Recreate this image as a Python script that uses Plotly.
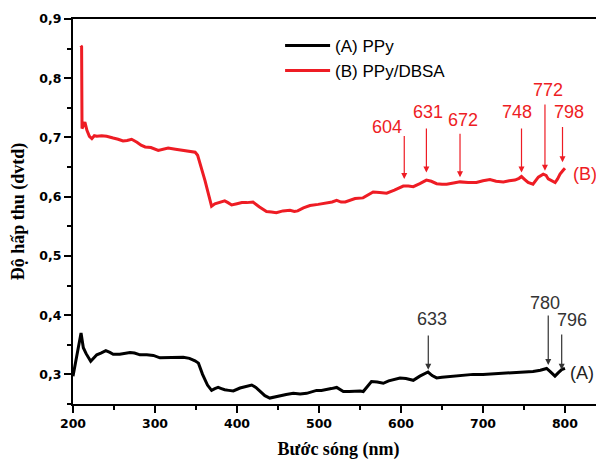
import plotly.graph_objects as go

# ---- Data ----
wl_B = [209.5, 210.5, 211, 212.5, 214.5, 217, 220, 223, 226, 229, 235, 241, 245, 249, 255, 261, 266, 271.5,
        278, 283, 288, 295, 304, 310, 316, 325, 334, 342, 349, 352, 356, 361, 366, 369, 373, 377, 381, 385,
        389, 393.5, 400, 406, 412, 419.5, 427, 436, 442, 448, 456, 464.6, 470, 474, 481, 489, 499, 509, 516,
        521.6, 527, 532, 538, 544, 553.7, 560, 566, 574, 582.5, 592, 602.8, 609, 615, 623, 631, 637, 643.5,
        650, 655.7, 664, 672, 682, 692, 700, 708.5, 716, 724.8, 732, 739, 744, 747, 751, 755, 761, 764,
        767.5, 773.5, 777, 779.6, 784, 788, 791, 794, 798, 800]
abs_B = [0.855, 0.853, 0.715, 0.72, 0.726, 0.712, 0.702, 0.698, 0.703, 0.702, 0.703, 0.702, 0.701, 0.699,
         0.697, 0.694, 0.695, 0.697, 0.692, 0.687, 0.684, 0.683, 0.678, 0.680, 0.682, 0.680, 0.678, 0.676,
         0.675, 0.670, 0.652, 0.627, 0.600, 0.584, 0.588, 0.590, 0.591, 0.593, 0.590, 0.586, 0.588, 0.590,
         0.590, 0.591, 0.583, 0.575, 0.574, 0.573, 0.576, 0.577, 0.575, 0.576, 0.581, 0.585, 0.587, 0.589,
         0.591, 0.594, 0.591, 0.591, 0.594, 0.597, 0.598, 0.603, 0.608, 0.607, 0.606, 0.611, 0.618, 0.618,
         0.617, 0.622, 0.628, 0.626, 0.622, 0.621, 0.621, 0.623, 0.625, 0.624, 0.624, 0.627, 0.629, 0.626,
         0.625, 0.627, 0.628, 0.631, 0.634, 0.629, 0.624, 0.621, 0.626, 0.633, 0.638, 0.636, 0.630, 0.627,
         0.624, 0.630, 0.638, 0.645, 0.648]

wl_A = [200, 203, 206, 209.8, 212.6, 216, 221.6, 225, 229, 234, 240, 245, 249, 257, 263, 269.5, 275, 281.7,
        290, 298, 306, 315, 325, 334.5, 342, 348.8, 353, 358, 364, 369, 373, 377, 381, 385, 390, 395.5,
        403.7, 410, 418, 423, 428, 434, 440, 446, 452, 460, 468.7, 477, 485, 491, 497, 503, 509, 515, 521.6,
        525, 529.7, 537, 544, 550, 554, 559, 564, 571, 578.4, 585, 590.6, 598.8, 606, 615, 623, 628, 633,
        638, 643.5, 650, 663.8, 676, 688, 700, 712.6, 725, 737, 749, 761, 770, 777.6, 781.7, 785, 787.8,
        792, 796, 800]
abs_A = [0.297, 0.32, 0.345, 0.370, 0.345, 0.335, 0.322, 0.327, 0.333, 0.336, 0.340, 0.337, 0.334, 0.334,
         0.336, 0.337, 0.336, 0.333, 0.333, 0.332, 0.328, 0.328, 0.329, 0.329, 0.327, 0.323, 0.319, 0.300,
         0.282, 0.273, 0.276, 0.278, 0.276, 0.274, 0.273, 0.272, 0.277, 0.279, 0.282, 0.278, 0.271, 0.264,
         0.260, 0.262, 0.264, 0.266, 0.268, 0.267, 0.268, 0.271, 0.273, 0.273, 0.274, 0.276, 0.278, 0.275,
         0.271, 0.271, 0.272, 0.272, 0.271, 0.280, 0.288, 0.287, 0.285, 0.289, 0.291, 0.294, 0.293, 0.290,
         0.297, 0.300, 0.304, 0.298, 0.294, 0.295, 0.297, 0.299, 0.300, 0.300, 0.301, 0.302, 0.302, 0.303,
         0.305, 0.307, 0.310, 0.305, 0.300, 0.297, 0.303, 0.308, 0.310]

# Peak markers: label, arrow x, arrow tip y, arrow tail y, label x, label y
peaks_B_label = ["604", "631", "672", "748", "772", "798"]
peaks_B_x     = [604, 631, 672, 747, 775.6, 797]
peaks_B_tip   = [0.630, 0.641, 0.633, 0.641, 0.644, 0.658]
peaks_B_tail  = [0.705, 0.7175, 0.709, 0.7175, 0.758, 0.720]
peaks_B_tx    = [583, 633, 676, 741, 779.6, 805]
peaks_B_ty    = [0.717, 0.743, 0.729, 0.743, 0.780, 0.743]

peaks_A_label = ["633", "780", "796"]
peaks_A_x     = [633.3, 779.6, 796]
peaks_A_tip   = [0.308, 0.316, 0.308]
peaks_A_tail  = [0.368, 0.402, 0.370]
peaks_A_tx    = [637.4, 775.6, 808]
peaks_A_ty    = [0.393, 0.421, 0.392]

x_ticks = [200, 300, 400, 500, 600, 700, 800]
y_ticks = [0.3, 0.4, 0.5, 0.6, 0.7, 0.8, 0.9]

RED = "#ee1c24"
GREY = "#333333"

fig = go.Figure()
fig.add_trace(go.Scatter(x=wl_A, y=abs_A, mode="lines", name="(A) PPy",
                         line=dict(color="black", width=3)))
fig.add_trace(go.Scatter(x=wl_B, y=abs_B, mode="lines", name="(B) PPy/DBSA",
                         line=dict(color=RED, width=3)))

ann = []
def add_peaks(labels, xs, tips, tails, txs, tys, color):
    for lab, x, tip, tail, tx, ty in zip(labels, xs, tips, tails, txs, tys):
        ann.append(dict(x=x, y=tip, ax=x, ay=tail, axref="x", ayref="y", xref="x", yref="y",
                        text="", showarrow=True, arrowhead=2, arrowsize=1.0, arrowwidth=1.2,
                        arrowcolor=color, standoff=0))
        ann.append(dict(x=tx, y=ty, xref="x", yref="y", text=lab, showarrow=False,
                        font=dict(family="Liberation Sans, Arial", size=18, color=color)))

add_peaks(peaks_B_label, peaks_B_x, peaks_B_tip, peaks_B_tail, peaks_B_tx, peaks_B_ty, RED)
add_peaks(peaks_A_label, peaks_A_x, peaks_A_tip, peaks_A_tail, peaks_A_tx, peaks_A_ty, GREY)

ann.append(dict(x=wl_B[-1], y=abs_B[-1] - 0.01, xref="x", yref="y", text="(B)", showarrow=False,
                xanchor="left", xshift=6, font=dict(family="Liberation Sans, Arial", size=18, color=RED)))
ann.append(dict(x=wl_A[-1], y=abs_A[-1] - 0.008, xref="x", yref="y", text="(A)", showarrow=False,
                xanchor="left", xshift=3, font=dict(family="Liberation Sans, Arial", size=18, color="#222222")))

tickfont = dict(family="DejaVu Sans", size=12.5, color="black", weight="bold")
titlefont = dict(family="Liberation Serif, Times New Roman", size=18, color="black", weight="bold")

# The page adds an 8 px body margin, so the figure is sized to fit inside the window.
fig.update_layout(
    width=596, height=453,
    margin=dict(l=65, r=0, t=11, b=57),
    paper_bgcolor="white", plot_bgcolor="white",
    separators=",.",
    showlegend=True,
    legend=dict(x=0.39, y=0.977, xanchor="left", yanchor="top", bgcolor="rgba(0,0,0,0)",
                font=dict(family="Liberation Sans, Arial", size=17, color="black"),
                tracegroupgap=0, itemwidth=45),
    annotations=ann,
    xaxis=dict(range=[200, 847.6], tickvals=x_ticks, showgrid=False, zeroline=False, automargin=False,
               showline=True, linewidth=2, linecolor="black", mirror=True,
               ticks="outside", ticklen=7, tickwidth=2, tickcolor="black",
               minor=dict(dtick=50, tick0=200, ticks="outside", ticklen=4, tickwidth=2, tickcolor="black"),
               tickfont=tickfont,
               title=dict(text="Bước sóng (nm)", font=titlefont, standoff=12)),
    yaxis=dict(range=[0.25, 0.9], tickvals=y_ticks, tickformat=".1f", showgrid=False, zeroline=False,
               automargin=False,
               showline=True, linewidth=2, linecolor="black",
               ticks="outside", ticklen=7, tickwidth=2, tickcolor="black",
               minor=dict(dtick=0.05, tick0=0.25, ticks="outside", ticklen=4, tickwidth=2, tickcolor="black"),
               tickfont=tickfont,
               title=dict(text="Độ hấp thu (dvtd)", font=titlefont, standoff=12)),
)

fig.write_html("out.html")
